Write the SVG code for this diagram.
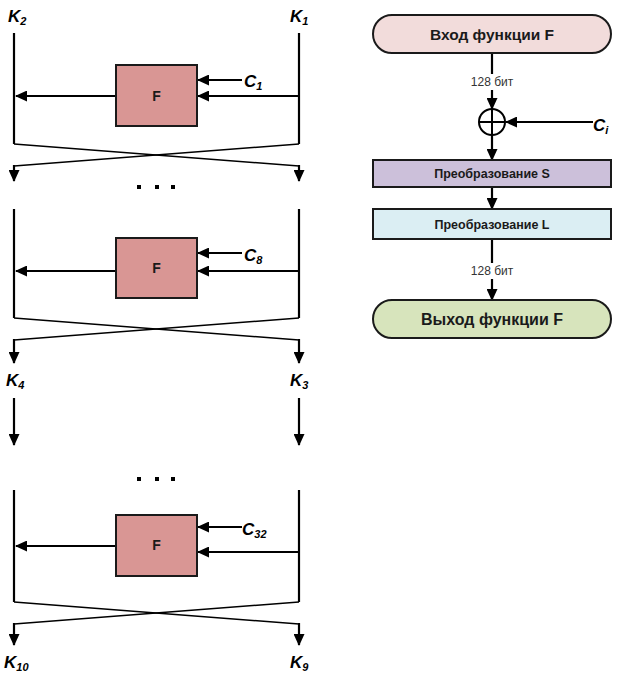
<svg xmlns="http://www.w3.org/2000/svg" width="628" height="678" viewBox="0 0 628 678">
<defs>
<marker id="ah" markerUnits="userSpaceOnUse" markerWidth="12" markerHeight="11" refX="11" refY="5.5" orient="auto">
<path d="M0,0 L12,5.5 L0,11 z" fill="#000"/>
</marker>
<style>
.ln{stroke:#000;stroke-width:2.2;fill:none}
.cr{stroke:#000;stroke-width:1.6;fill:none}
.ar{stroke:#000;stroke-width:2.2;fill:none;marker-end:url(#ah)}
.fb{fill:#d99694;stroke:#1a1a1a;stroke-width:2}
.ft{font-family:"Liberation Sans",Arial,sans-serif;font-weight:bold;font-size:14px;fill:#1a1a1a;text-anchor:middle}
.kl{font-family:"Liberation Sans",Arial,sans-serif;font-weight:bold;font-style:italic;font-size:17px;fill:#000}
.sub{font-size:11px}
.nb{stroke:#1a1a1a;stroke-width:2}
.nt{font-family:"Liberation Sans",Arial,sans-serif;font-weight:bold;fill:#1a1a1a;text-anchor:middle}
.bt{font-family:"Liberation Sans",Arial,sans-serif;font-size:12px;fill:#333;text-anchor:middle}
.dot{fill:#000}
</style>
</defs>
<rect width="628" height="678" fill="#fff"/>

<g id="connectors">
<!-- block 1 -->
<path class="ln" d="M14,33 V144"/>
<path class="ln" d="M299,33 V144"/>
<path class="cr" d="M14,144 L299,166"/>
<path class="cr" d="M299,144 L14,166"/>
<path class="ar" d="M14,165 V181"/>
<path class="ar" d="M299,165 V181"/>
<path class="ar" d="M242,80 H198"/>
<path class="ar" d="M299,96 H198"/>
<path class="ar" d="M116,96 H16"/>
<!-- block 2 -->
<path class="ln" d="M14,209 V318"/>
<path class="ln" d="M299,209 V318"/>
<path class="cr" d="M14,318 L299,340"/>
<path class="cr" d="M299,318 L14,340"/>
<path class="ar" d="M14,339 V363"/>
<path class="ar" d="M299,339 V363"/>
<path class="ar" d="M242,253 H198"/>
<path class="ar" d="M299,271 H198"/>
<path class="ar" d="M116,271 H16"/>
<!-- between -->
<path class="ar" d="M14,398 V445"/>
<path class="ar" d="M299,398 V445"/>
<!-- block 3 -->
<path class="ln" d="M14,490 V602"/>
<path class="ln" d="M299,490 V602"/>
<path class="cr" d="M14,602 L299,624"/>
<path class="cr" d="M299,602 L14,624"/>
<path class="ar" d="M14,623 V645"/>
<path class="ar" d="M299,623 V645"/>
<path class="ar" d="M242,527 H198"/>
<path class="ar" d="M299,552 H198"/>
<path class="ar" d="M116,546 H16"/>
<!-- right flowchart -->
<path class="ar" d="M492,53 V109"/>
<path class="ar" d="M593,122 H506"/>
<path class="ar" d="M492,135 V160"/>
<path class="ar" d="M492,187 V209"/>
<path class="ar" d="M492,239 V300"/>
<rect x="466" y="74" width="52" height="16" fill="#fff"/>
<text class="bt" x="492" y="86">128 бит</text>
<rect x="466" y="263" width="52" height="16" fill="#fff"/>
<text class="bt" x="492" y="275">128 бит</text>
</g>

<g id="labels">
<text class="kl" x="8" y="22">K<tspan class="sub" dy="3">2</tspan></text>
<text class="kl" x="290" y="22">K<tspan class="sub" dy="3">1</tspan></text>
<text class="kl" x="6" y="386">K<tspan class="sub" dy="3">4</tspan></text>
<text class="kl" x="290" y="386">K<tspan class="sub" dy="3">3</tspan></text>
<text class="kl" x="4" y="668">K<tspan class="sub" dy="3">10</tspan></text>
<text class="kl" x="290" y="668">K<tspan class="sub" dy="3">9</tspan></text>
<text class="kl" x="244" y="87">C<tspan class="sub" dy="3">1</tspan></text>
<text class="kl" x="244" y="261">C<tspan class="sub" dy="3">8</tspan></text>
<text class="kl" x="242" y="535">C<tspan class="sub" dy="3">32</tspan></text>
<text class="kl" x="593" y="131">C<tspan class="sub" dy="3">i</tspan></text>
</g>

<g id="dots1">
<rect class="dot" x="137" y="185" width="4" height="4"/>
<rect class="dot" x="155" y="185" width="4" height="4"/>
<rect class="dot" x="171" y="185" width="4" height="4"/>
</g>
<g id="dots2">
<rect class="dot" x="137" y="477" width="4" height="4"/>
<rect class="dot" x="155" y="477" width="4" height="4"/>
<rect class="dot" x="171" y="477" width="4" height="4"/>
</g>

<g id="F1">
<rect class="fb" x="116" y="65" width="81" height="61"/>
<text class="ft" x="156.5" y="101">F</text>
</g>
<g id="F2">
<rect class="fb" x="116" y="238" width="81" height="60"/>
<text class="ft" x="156.5" y="273">F</text>
</g>
<g id="F3">
<rect class="fb" x="116" y="515" width="81" height="61"/>
<text class="ft" x="156.5" y="550">F</text>
</g>

<g id="inputF">
<rect class="nb" x="373" y="15" width="238" height="38" rx="19" fill="#f2dcdb"/>
<text class="nt" x="492" y="40" font-size="15.5">Вход функции F</text>
</g>
<g id="xor">
<circle cx="492" cy="122" r="13" fill="#fff" stroke="#000" stroke-width="2"/>
<path d="M479,122 H505 M492,109 V135" stroke="#000" stroke-width="2"/>
</g>
<g id="transS">
<rect class="nb" x="373" y="160" width="238" height="27" fill="#ccc0da"/>
<text class="nt" x="492" y="178" font-size="12.5">Преобразование S</text>
</g>
<g id="transL">
<rect class="nb" x="373" y="209" width="238" height="30" fill="#dbeef3"/>
<text class="nt" x="492" y="228.5" font-size="12.5">Преобразование L</text>
</g>
<g id="outputF">
<rect class="nb" x="373" y="300" width="238" height="38" rx="19" fill="#d7e4bc"/>
<text class="nt" x="492" y="325" font-size="16">Выход функции F</text>
</g>
</svg>
